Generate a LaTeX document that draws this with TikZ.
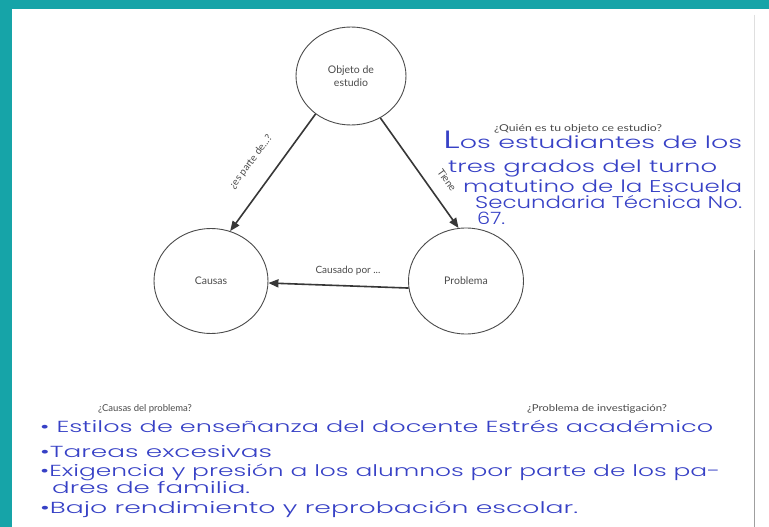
\documentclass[tikz,border=0pt]{standalone}
\usepackage{graphicx}
\usepackage{fontspec}
\setmainfont{Lato}
\newfontfamily\handfont{Poppins Light}
\usetikzlibrary{arrows.meta,shapes.geometric}
\definecolor{tealb}{RGB}{22,164,168}
\definecolor{ink}{RGB}{55,65,198}
\definecolor{prt}{RGB}{75,75,75}
\definecolor{arrc}{RGB}{55,55,55}
\newcommand{\hw}[2]{\resizebox{#1}{\height}{#2}}
\tikzset{
  bubble/.style={ellipse, draw=prt, line width=0.9pt, inner sep=0pt, text=prt,
    font=\fontsize{10.5}{13}\selectfont, align=center},
  conn/.style={draw=arrc, line width=1.6pt, -{Triangle[length=10pt,width=8pt]}},
  lbl/.style={text=prt, font=\fontsize{10}{12}\selectfont, inner sep=0pt},
  qlbl/.style={text=prt, font=\fontsize{9.5}{11}\selectfont, inner sep=0pt},
  hand/.style={text=ink, font=\handfont\fontsize{17}{19}\selectfont, inner sep=0pt, anchor=base west},
  handb/.style={text=ink, font=\handfont\fontsize{16}{18}\selectfont, inner sep=0pt, anchor=base west}
}
\begin{document}
\begin{tikzpicture}[x=1pt,y=-1pt]
\useasboundingbox (0,0) rectangle (769,527);
\fill[white] (0,0) rectangle (769,527);
\fill[tealb] (0,0) rectangle (769,9);
\fill[tealb] (0,0) rectangle (12,527);
% paper edge on the right
\draw[gray!25, line width=0.8pt] (754,15) -- (754,250);
\draw[gray!75, line width=1pt] (754,250) -- (754,527);

% diagram nodes
\node[bubble, minimum width=110pt, minimum height=98pt] (obj) at (351,76) {Objeto de\\estudio};
\node[bubble, minimum width=114pt, minimum height=105pt] (cau) at (211,281) {Causas};
\node[bubble, minimum width=115pt, minimum height=106pt] (pro) at (466,281) {Problema};

% connectors
\draw[conn] (obj.227) -- (cau.69);
\draw[conn] (obj.305) -- (pro.98);
\draw[conn] (pro.187) -- (cau.358);

% connector labels
\node[lbl, rotate=53] (l1) at (251,162) {¿es parte de...?};
\node[lbl, rotate=-54] (l2) at (447,180) {Tiene};
\node[lbl] (l3) at (348,271) {Causado por ...};

% printed questions
\node[qlbl] (q1) at (578,129) {\hw{168pt}{¿Quién es tu objeto ce estudio?}};
\node[qlbl] (q2) at (145,409) {¿Causas del problema?};
\node[qlbl] (q3) at (597,409) {\hw{140pt}{¿Problema de investigación?}};

% handwritten answer, object of study
\node[hand] (h1) at (443,149) {\hw{299pt}{{\fontsize{25}{25}\selectfont L}os estudiantes de los}};
\node[hand] (h2) at (448,172) {\hw{269pt}{tres grados del turno}};
\node[hand] (h3) at (463,192) {\hw{279pt}{matutino de la Escuela}};
\node[hand] (h4) at (475,208) {\hw{267pt}{Secundaria Técnica No.}};
\node[hand] (h5) at (477,224) {\hw{28pt}{67.}};

% handwritten answers, causes and problem
\node[handb] (b1) at (40,432) {\hw{673pt}{• Estilos de enseñanza del docente Estrés académico}};
\node[handb] (b2) at (40,457) {\hw{232pt}{•Tareas excesivas}};
\node[handb] (b3) at (40,476) {\hw{680pt}{•Exigencia y presión a los alumnos por parte de los pa-}};
\node[handb] (b4) at (52,493) {\hw{198pt}{dres de familia.}};
\node[handb] (b5) at (40,513) {\hw{538pt}{•Bajo rendimiento y reprobación escolar.}};
\end{tikzpicture}
\end{document}
